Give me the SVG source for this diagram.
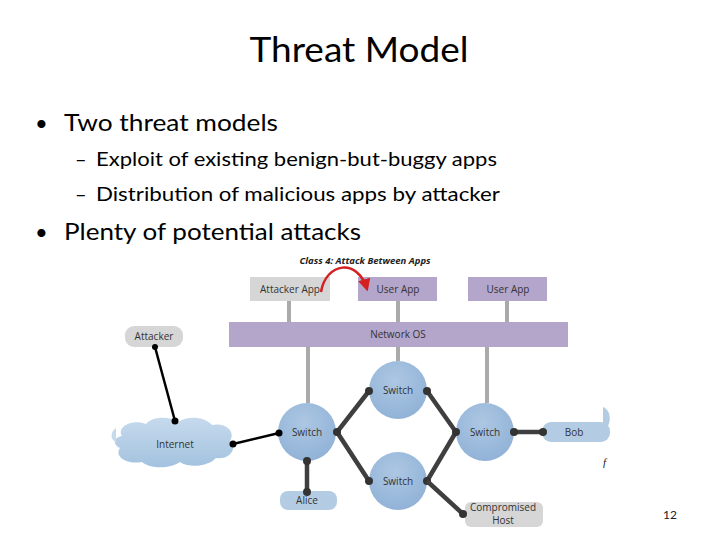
<svg xmlns="http://www.w3.org/2000/svg" width="720" height="540" viewBox="0 0 720 540">
<style>
.t{font-family:Lato,"Open Sans","Liberation Sans",sans-serif;fill:#000}
.d{font-family:"Open Sans","Liberation Sans",sans-serif;font-size:10px;fill:#333;text-anchor:middle}
.sw{fill:url(#swg)}
.gray{fill:#d6d6d6}
.pur{fill:#b4a5cb}
.blue{fill:#b3cce4}
.pole{stroke:#aaaaaa;stroke-width:4}
.lk{stroke:#3f3f3f;stroke-width:4.5;fill:none}
.lb{stroke:#000;stroke-width:2.5;fill:none}
.dot{fill:#333}
</style>
<defs>
<radialGradient id="swg" cx="0.45" cy="0.35" r="0.7"><stop offset="0" stop-color="#adc7e3"/><stop offset="1" stop-color="#8fb1d6"/></radialGradient>
<linearGradient id="cg" x1="0" y1="0" x2="0" y2="1"><stop offset="0" stop-color="#c6daed"/><stop offset="1" stop-color="#a3c2df"/></linearGradient>
<marker id="ra" viewBox="0 0 10 10" refX="8" refY="5" markerWidth="5" markerHeight="5" orient="auto"><path d="M0,0 L10,5 L0,10 z" fill="#d42020"/></marker>
</defs>
<rect width="720" height="540" fill="#fff"/>
<text class="t" x="359" y="62" font-size="34" text-anchor="middle" textLength="219" lengthAdjust="spacingAndGlyphs">Threat Model</text>
<text class="t" x="35" y="131" font-size="22">•</text>
<text class="t" x="64" y="131" font-size="24" textLength="214" lengthAdjust="spacingAndGlyphs">Two threat models</text>
<text class="t" x="75" y="166" font-size="20">–</text>
<text class="t" x="96" y="166" font-size="20" textLength="401" lengthAdjust="spacingAndGlyphs">Exploit of existing benign-but-buggy apps</text>
<text class="t" x="75" y="201" font-size="20">–</text>
<text class="t" x="96" y="201" font-size="20" textLength="404" lengthAdjust="spacingAndGlyphs">Distribution of malicious apps by attacker</text>
<text class="t" x="35" y="240" font-size="22">•</text>
<text class="t" x="64" y="240" font-size="24" textLength="297" lengthAdjust="spacingAndGlyphs">Plenty of potential attacks</text>
<text x="365" y="264" font-family="'Open Sans','Liberation Sans',sans-serif" font-size="9.5" font-weight="bold" font-style="italic" fill="#222" text-anchor="middle">Class 4: Attack Between Apps</text>
<g id="attacker-app"><rect class="gray" x="250" y="277" width="80" height="24"/><text class="d" x="290" y="293">Attacker App</text></g>
<g id="user-app-1"><rect class="pur" x="358" y="277" width="79" height="24"/><text class="d" x="398" y="293">User App</text></g>
<g id="user-app-2"><rect class="pur" x="468" y="277" width="79" height="24"/><text class="d" x="508" y="293">User App</text></g>
<g id="network-os"><rect class="pur" x="229" y="322" width="339" height="25"/><text class="d" x="398" y="338">Network OS</text></g>
<g id="attacker"><rect class="gray" x="125" y="326" width="58" height="21" rx="9"/><text class="d" x="154" y="340">Attacker</text></g>
<g id="internet">
<path d="M122,436 C116,426 134,419 146,424 C152,416 170,416 178,422 C188,415 206,417 212,425 C226,422 236,432 230,441 C238,448 230,460 216,458 C208,467 188,468 180,462 C170,469 150,469 142,462 C126,465 114,456 120,448 C112,444 114,437 122,436 Z" fill="url(#cg)"/>
<text class="d" x="175" y="448" font-size="12.5">Internet</text>
</g>
<g id="switch-left"><circle class="sw" cx="307" cy="432" r="29"/><text class="d" x="307" y="436">Switch</text></g>
<g id="switch-top"><circle class="sw" cx="398" cy="390" r="29"/><text class="d" x="398" y="394">Switch</text></g>
<g id="switch-right"><circle class="sw" cx="485" cy="432" r="29"/><text class="d" x="485" y="436">Switch</text></g>
<g id="switch-bottom"><circle class="sw" cx="398" cy="481" r="29"/><text class="d" x="398" y="485">Switch</text></g>
<g id="alice"><rect class="blue" x="280" y="491" width="57" height="19" rx="8"/><text class="d" x="307" y="504">Alice</text></g>
<g id="bob"><rect class="blue" x="542" y="422" width="68" height="20" rx="9"/><text class="d" x="574" y="436">Bob</text></g>
<g id="compromised-host"><rect class="gray" x="465" y="502" width="78" height="25" rx="6"/><text class="d" x="503" y="511" font-size="7.5">Compromised</text><text class="d" x="503" y="524" font-size="7.5">Host</text></g>
<g id="connectors">
<line class="pole" x1="289" y1="301" x2="289" y2="322"/>
<line class="pole" x1="398" y1="301" x2="398" y2="322"/>
<line class="pole" x1="507" y1="301" x2="507" y2="322"/>
<line class="pole" x1="308" y1="347" x2="308" y2="403"/>
<line class="pole" x1="398" y1="347" x2="398" y2="361"/>
<line class="pole" x1="487" y1="347" x2="487" y2="403"/>
<line class="lb" x1="155" y1="347" x2="175" y2="421"/>
<circle cx="155" cy="347" r="3" fill="#000"/><circle cx="175" cy="421" r="3.5" fill="#000"/>
<line class="lb" x1="233" y1="444" x2="279" y2="433"/>
<circle cx="233" cy="444" r="3.5" fill="#000"/><circle cx="279" cy="433" r="3.5" fill="#000"/>
<line class="lk" x1="307" y1="461" x2="307" y2="492"/>
<circle class="dot" cx="307" cy="461" r="4"/><circle class="dot" cx="307" cy="492" r="4"/>
<polyline class="lk" points="369,391 337,432 369,481"/>
<circle class="dot" cx="337" cy="432" r="4"/><circle class="dot" cx="369" cy="391" r="4"/><circle class="dot" cx="369" cy="481" r="4"/>
<polyline class="lk" points="427,391 456,432 427,481"/>
<circle class="dot" cx="427" cy="391" r="4"/><circle class="dot" cx="456" cy="432" r="4"/><circle class="dot" cx="427" cy="481" r="4"/>
<line class="lk" x1="427" y1="481" x2="463" y2="514"/>
<circle class="dot" cx="463" cy="514" r="4"/>
<line class="lk" x1="514" y1="432" x2="543" y2="432"/>
<circle class="dot" cx="514" cy="432" r="4"/><circle class="dot" cx="543" cy="432" r="4"/>
<path d="M321,292 C326,262 358,258 367,289" fill="none" stroke="#d42020" stroke-width="2.5" marker-end="url(#ra)"/>
</g>
<path d="M603,407 C612,410 612,427 603,430 Z" fill="#b3cce4"/>
<path d="M116,428 C110,432 110,440 116,442 Z" fill="#c6daed"/>
<text x="603" y="466" font-family="'Liberation Serif',serif" font-size="11" font-style="italic" fill="#222">f</text>
<text x="670" y="519" font-family="Lato,'Liberation Sans',sans-serif" font-size="12" fill="#222" text-anchor="middle">12</text>
</svg>
